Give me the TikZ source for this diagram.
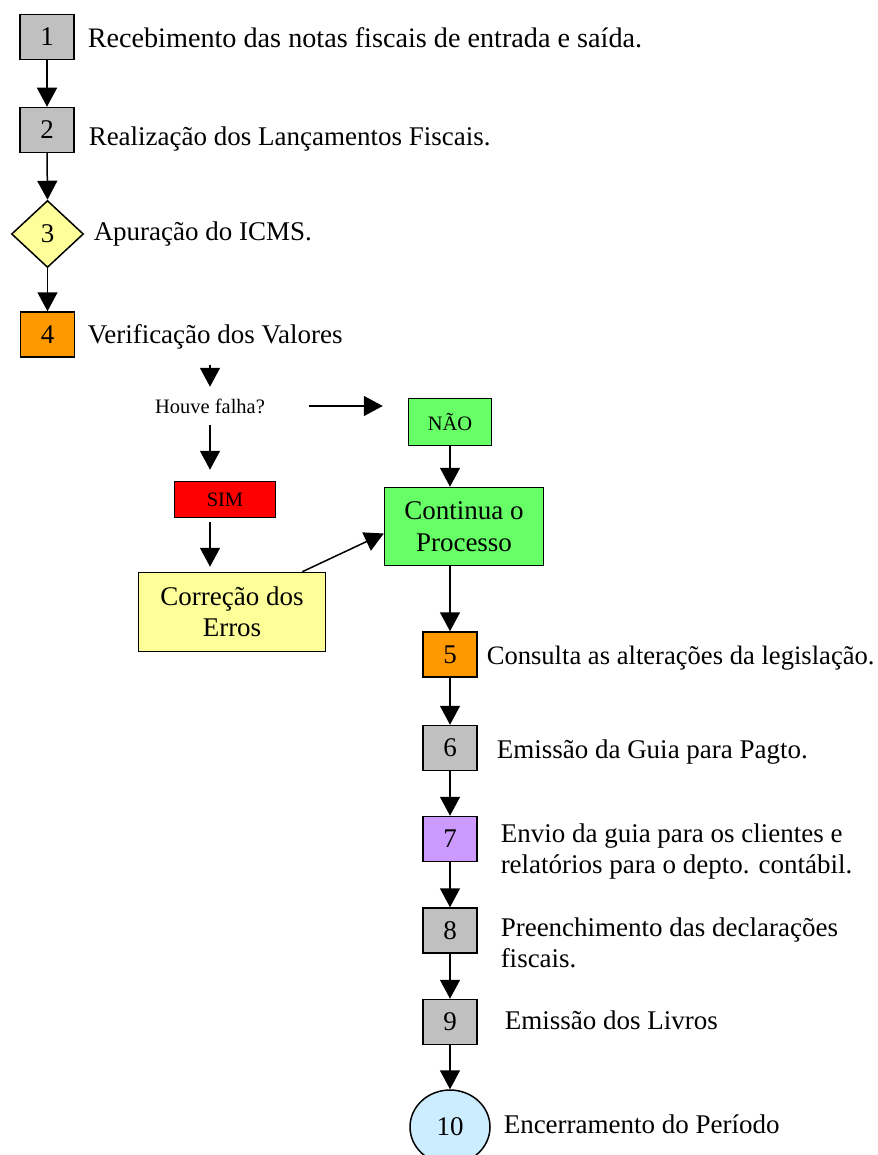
\documentclass[tikz,border=0pt]{standalone}
\usepackage{fontspec}
\setmainfont{Liberation Serif}
\usetikzlibrary{shapes.geometric,arrows.meta}
\definecolor{cinza}{HTML}{C0C0C0}
\definecolor{amarelo}{HTML}{FFFF99}
\definecolor{laranja}{HTML}{FF9900}
\definecolor{verde}{HTML}{66FF66}
\definecolor{vermelho}{HTML}{FF0000}
\definecolor{lilas}{HTML}{CC99FF}
\definecolor{azul}{HTML}{CCECFF}
\begin{document}
\begin{tikzpicture}[x=1pt,y=-1pt,line width=1.5pt,font=\fontsize{27}{31}\selectfont]
    \tikzstyle{arr}=[-{Triangle[width=20pt,length=19pt]}]
    \tikzstyle{box}=[rectangle,draw,minimum width=54pt,minimum height=45pt,inner sep=0pt]
    \tikzstyle{note}=[anchor=base west,inner sep=0pt,align=left]
    \tikzstyle{small}=[font=\fontsize{20.5}{24}\selectfont]

    \useasboundingbox (0,0) rectangle (877,1155);

    % etapas
    \foreach \n/\px/\py/\c in {1/47/37/cinza,2/47/130/cinza,4/47.5/334.5/laranja,
        5/450/654.5/laranja,6/450/748/cinza,7/450/839/lilas,8/450/930.5/cinza,9/450/1022/cinza}
    \node[box,fill=\c] (S-\n) at (\px,\py) {\n};
    \node[diamond,draw,fill=amarelo,minimum width=72pt,minimum height=67pt,inner sep=0pt] (S-3) at (47.5,234) {3};
    \node[ellipse,draw,fill=azul,minimum width=80pt,minimum height=74pt,inner sep=0pt] (S-10) at (450,1127) {10};

    % textos
    \node[note,font=\fontsize{28.2}{32}\selectfont] (T-1) at (87,48) {Recebimento das notas fiscais de entrada e saída.};
    \node[note] (T-2) at (88,146) {Realização dos Lançamentos Fiscais.};
    \node[note] (T-3) at (93,241) {Apuração do ICMS.};
    \node[note] (T-4) at (87,343) {Verificação dos Valores};
    \node[note,font=\fontsize{26.6}{31}\selectfont] (T-5) at (486,664) {Consulta as alterações da legislação.};
    \node[note] (T-6) at (496,758) {Emissão da Guia para Pagto.};
    \node[note] (T-7) at (500,873) {Envio da guia para os clientes e\\relatórios para o depto. contábil.};
    \node[note] (T-8) at (500,967) {Preenchimento das declarações\\fiscais.};
    \node[note] (T-9) at (504,1029) {Emissão dos Livros};
    \node[note] (T-10) at (503,1133) {Encerramento do Período};

    % decisao
    \node[small,minimum width=196pt,minimum height=37pt,inner sep=0pt] (houve) at (210,406) {Houve falha?};
    \node[box,small,fill=verde,minimum width=83pt,minimum height=47pt] (nao) at (450,422) {NÃO};
    \node[box,small,fill=vermelho,minimum width=101pt,minimum height=36pt] (sim) at (225,499.5) {SIM};
    \node[box,fill=verde,minimum width=159pt,minimum height=78pt,align=center,font=\fontsize{27}{32}\selectfont] (cont) at (464,526.5) {Continua o\\Processo};
    \node[box,fill=amarelo,minimum width=187pt,minimum height=79pt,align=center] (corr) at (232,612) {Correção dos\\Erros};

    \foreach \a/\b in {1/2,2/3,3/4,5/6,6/7,7/8,8/9,9/10}
    \draw[arr] (S-\a.south) -- (S-\b.north);

    \draw[arr,shorten <=16pt] (T-4.south -| houve.north) -- (houve.north);
    \draw[arr,shorten >=25pt] (houve.east) -- (houve.east -| nao.west);
    \draw[arr,shorten >=11pt] (houve.south) -- (houve.south |- sim.north);
    \draw[arr,shorten <=4pt,shorten >=5pt] (sim.south -| houve.south) -- (houve.south |- corr.north);
    \draw[arr] ([xshift=-24pt]corr.north east) -- ([yshift=-7pt]cont.west);
    \draw[arr] (nao.south) -- (nao.south |- cont.north);
    \draw[arr] (S-5.north |- cont.south) -- (S-5.north);
\end{tikzpicture}
\end{document}
